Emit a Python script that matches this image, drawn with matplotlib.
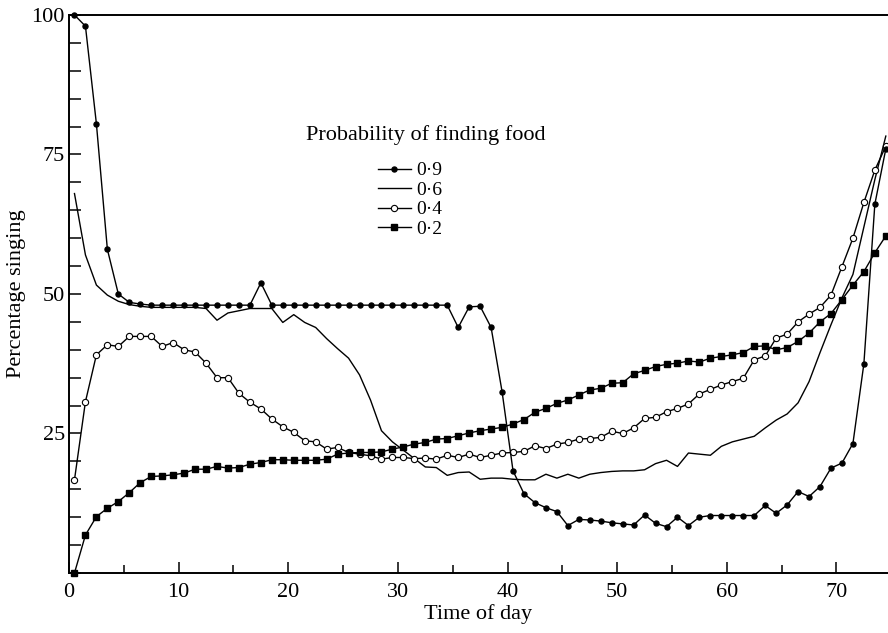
import numpy as np
import matplotlib
matplotlib.use('Agg')
import matplotlib.pyplot as plt
from matplotlib.ticker import MultipleLocator

# hora del dia (un punto por unidad de tiempo)
tiempo = np.arange(75) + 0.5

# porcentaje cantando segun probabilidad de encontrar comida
prob09 = [100, 98, 80.5, 58, 50, 48.5, 48.2, 48, 48, 48,
          48, 48, 48, 48, 48, 48, 48, 52, 48, 48,
          48, 48, 48, 48, 48, 48, 48, 48, 48, 48,
          48, 48, 48, 48, 48, 44, 47.7, 47.8, 44, 32.5,
          18.3, 14.2, 12.6, 11.7, 11.0, 8.5, 9.6, 9.5, 9.3, 9.0,
          8.8, 8.6, 10.4, 8.9, 8.3, 10.0, 8.5, 10.0, 10.3, 10.3,
          10.3, 10.3, 10.3, 12.1, 10.7, 12.2, 14.6, 13.7, 15.5, 18.8,
          19.7, 23.2, 37.5, 66.1, 76]
prob06 = [68, 57, 51.6, 49.8, 48.7, 48.1, 47.8, 47.6, 47.6, 47.6,
          47.6, 47.6, 47.4, 45.3, 46.6, 47.0, 47.4, 47.4, 47.4, 44.9,
          46.3, 44.9, 44.0, 42.0, 40.2, 38.5, 35.5, 31.0, 25.5, 23.5,
          22.0, 20.5, 19.0, 18.9, 17.5, 18.0, 18.1, 16.8, 17.0, 17.0,
          16.8, 16.7, 16.7, 17.7, 17.0, 17.7, 17.0, 17.7, 18.0, 18.2,
          18.3, 18.3, 18.5, 19.6, 20.2, 19.1, 21.5, 21.3, 21.1, 22.7,
          23.5, 24.0, 24.5, 26.0, 27.4, 28.5, 30.5, 34.3, 39.5, 44.5,
          49.3, 53.5, 62.0, 70.5, 78.3]
prob04 = [16.7, 30.7, 39.1, 40.9, 40.6, 42.4, 42.4, 42.4, 40.6, 41.3,
          40.0, 39.6, 37.6, 35.0, 35.0, 32.2, 30.6, 29.4, 27.6, 26.2,
          25.2, 23.7, 23.5, 22.2, 22.5, 21.6, 21.3, 21.0, 20.4, 20.7,
          20.7, 20.5, 20.6, 20.4, 21.1, 20.7, 21.3, 20.7, 21.1, 21.5,
          21.6, 21.8, 22.8, 22.3, 23.1, 23.4, 24.0, 24.1, 24.3, 25.4,
          25.0, 26.0, 27.7, 27.9, 28.9, 29.5, 30.3, 32.1, 32.9, 33.7,
          34.3, 34.9, 38.2, 38.9, 42.1, 42.8, 45.0, 46.4, 47.6, 49.8,
          54.9, 60.0, 66.4, 72.2, 76.5]
prob02 = [0, 6.8, 10.1, 11.6, 12.8, 14.4, 16.2, 17.3, 17.4, 17.6,
          17.9, 18.6, 18.6, 19.1, 18.8, 18.9, 19.5, 19.8, 20.3, 20.3,
          20.2, 20.2, 20.2, 20.4, 21.3, 21.5, 21.6, 21.6, 21.7, 22.2,
          22.6, 23.1, 23.4, 24.0, 24.1, 24.6, 25.1, 25.5, 25.8, 26.1,
          26.7, 27.5, 28.8, 29.5, 30.4, 31.0, 31.9, 32.8, 33.1, 34.0,
          34.1, 35.7, 36.3, 37.0, 37.4, 37.6, 38.0, 37.8, 38.5, 38.8,
          39.1, 39.5, 40.6, 40.7, 40.0, 40.4, 41.5, 43.0, 45.0, 46.5,
          49.0, 51.6, 54.0, 57.4, 60.4]

etiquetas = ['0·9', '0·6', '0·4', '0·2']

plt.rcParams['font.family'] = ['Liberation Serif', 'DejaVu Serif']

fig = plt.figure(figsize=(8.88, 6.33), dpi=100)
ax = fig.add_axes([0.0777, 0.0948, 0.9223, 0.8815])

ax.plot(tiempo, prob09, color='black', lw=1.0, marker='o', ms=3.6,
        label=etiquetas[0], clip_on=False, zorder=4)
ax.plot(tiempo, prob06, color='black', lw=1.0, label=etiquetas[1],
        clip_on=False, zorder=3)
ax.plot(tiempo, prob04, color='black', lw=1.0, marker='o', ms=4.5,
        mfc='white', mec='black', mew=0.8, label=etiquetas[2],
        clip_on=False, zorder=3)
ax.plot(tiempo, prob02, color='black', lw=1.0, marker='s', ms=4.2,
        label=etiquetas[3], clip_on=False, zorder=3)

ax.set_xlim(0, 74.7)
ax.set_ylim(0, 100)

ax.xaxis.set_major_locator(MultipleLocator(10))
ax.xaxis.set_minor_locator(MultipleLocator(5))
ax.yaxis.set_minor_locator(MultipleLocator(5))
ax.set_yticks([25, 50, 75, 100])
ax.tick_params(axis='x', which='major', direction='in', length=8, width=1.1,
               labelsize=16, pad=7)
ax.tick_params(axis='x', which='minor', direction='in', length=5.5, width=1.1)
ax.tick_params(axis='y', which='both', direction='in', length=8.5, width=1.1,
               labelsize=16, pad=3)

for lado in ['left', 'bottom', 'top']:
    ax.spines[lado].set_linewidth(1.4)
ax.spines['right'].set_visible(False)

ax.set_xlabel('Time of day', fontsize=16, labelpad=2)
ax.set_ylabel('Percentage singing', fontsize=16, labelpad=4)

ax.text(0.435, 0.785, 'Probability of finding food', transform=ax.transAxes,
        ha='center', va='center', fontsize=16)
ax.legend(loc='upper left', bbox_to_anchor=(0.377, 0.737), frameon=False,
          fontsize=14, handlelength=1.7, handletextpad=0.3, labelspacing=0.1,
          borderpad=0, borderaxespad=0)

plt.savefig('out.png', dpi=100)
